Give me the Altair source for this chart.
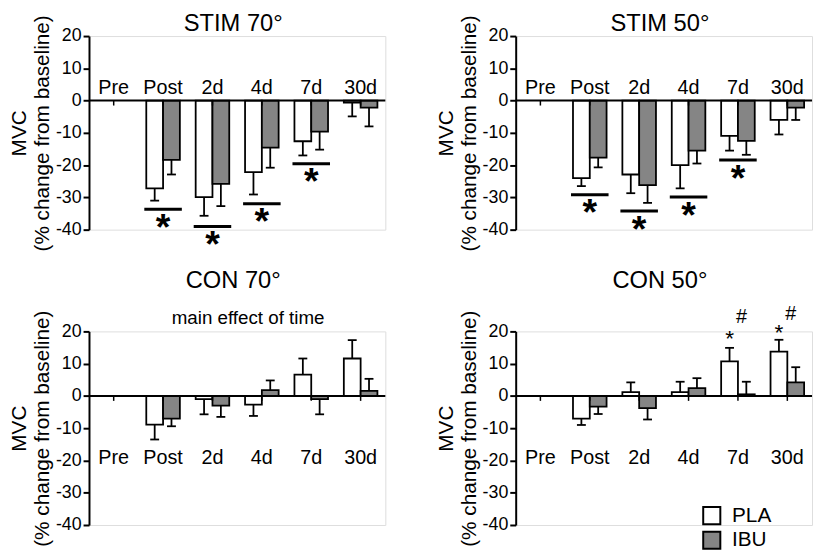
import altair as alt
import pandas as pd

FONT = "Liberation Sans"
times = ["Pre", "Post", "2d", "4d", "7d", "30d"]
bar_times = ["Post", "2d", "4d", "7d", "30d"]
groups = ["PLA", "IBU"]
y_ticks = [20, 10, 0, -10, -20, -30, -40]

# STIM 70
stim70_pla = [-27.2, -29.9, -22.2, -12.6, -0.6]
stim70_pla_se = [3.8, 5.8, 6.9, 4.4, 4.3]
stim70_ibu = [-18.4, -25.8, -14.6, -9.6, -2.2]
stim70_ibu_se = [4.5, 6.9, 6.2, 5.6, 5.8]
stim70_sig_times = ["Post", "2d", "4d", "7d"]
stim70_sig = [-33.7, -39.0, -32.0, -19.6]

# STIM 50
stim50_pla = [-24.0, -22.9, -20.0, -10.9, -6.0]
stim50_pla_se = [2.5, 5.8, 7.2, 4.6, 4.5]
stim50_ibu = [-17.7, -26.2, -15.5, -12.5, -2.2]
stim50_ibu_se = [3.0, 5.5, 4.0, 4.3, 3.8]
stim50_sig_times = ["Post", "2d", "4d", "7d"]
stim50_sig = [-29.2, -34.2, -29.9, -18.4]

# CON 70
con70_pla = [-8.9, -1.0, -2.7, 6.6, 11.6]
con70_pla_se = [4.6, 4.7, 3.5, 5.0, 5.7]
con70_ibu = [-7.0, -3.0, 1.8, -1.0, 1.6]
con70_ibu_se = [2.4, 3.5, 3.0, 4.7, 3.7]

# CON 50
con50_pla = [-7.0, 1.2, 1.2, 10.7, 13.7]
con50_pla_se = [2.0, 3.0, 3.2, 4.2, 3.7]
con50_ibu = [-3.3, -3.8, 2.4, 0.5, 4.2]
con50_ibu_se = [2.3, 3.5, 3.1, 3.9, 4.7]
con50_star_times = ["7d", "30d"]
con50_star_y = [17.6, 19.5]
con50_hash_y = [24.3, 25.3]

W, H = 300, 196
GRAY = "#858585"


def ycode(field):
    return alt.Y(
        field, type="quantitative",
        scale=alt.Scale(domain=[-40, 20], nice=False, zero=False),
        axis=alt.Axis(
            values=y_ticks, title=["MVC", "(% change from baseline)"],
            titleFontSize=21, titleFontWeight="normal", titleLineHeight=23,
            titlePadding=3, titleColor="black", titleFont=FONT,
            labelFontSize=18, labelPadding=2, labelColor="black", labelFont=FONT,
            labelExpr="datum.value < 0 ? '-' + abs(datum.value) : '' + datum.value",
            tickSize=6, tickWidth=2, tickColor="black",
            domainWidth=2, domainColor="black", grid=False,
            labelOverlap=False, labelFlush=False,
        ),
    )


xs = alt.X("time:N", scale=alt.Scale(domain=times, paddingInner=0.32, paddingOuter=0.16), axis=None)
xo = alt.XOffset("group:N", scale=alt.Scale(domain=groups, paddingInner=0, paddingOuter=0))


def panel(name, title_y, pla, pla_se, ibu, ibu_se, label_val, sig_t=None, sig_v=None,
          note=False, annotate=False, legend=False):
    rec = []
    for g, means, ses in (("PLA", pla, pla_se), ("IBU", ibu, ibu_se)):
        for t, m, s in zip(bar_times, means, ses):
            rec.append({"time": t, "group": g, "mean": m, "end": m + s if m > 0 else m - s})
    df = pd.DataFrame(rec)
    base = alt.Chart(df)
    if legend:
        leg = alt.Legend(orient="none", legendX=188, legendY=176, title=None,
                         symbolType="square", symbolSize=300, symbolStrokeColor="black",
                         symbolStrokeWidth=2, labelFontSize=21, labelFont=FONT,
                         labelColor="black", rowPadding=-2, padding=0, labelOffset=10,
                         direction="vertical")
    else:
        leg = None
    bars = base.mark_bar(stroke="black", strokeWidth=1.8).encode(
        x=xs, xOffset=xo, y=ycode("mean"),
        fill=alt.Fill("group:N", scale=alt.Scale(domain=groups, range=["white", GRAY]), legend=leg),
    )
    err = base.mark_rule(color="black", strokeWidth=1.8).encode(
        x=xs, xOffset=xo, y=ycode("mean"), y2="end:Q")
    caps = base.mark_tick(color="black", thickness=1.8, size=9, orient="horizontal",
                          opacity=1).encode(x=xs, xOffset=xo, y=ycode("end"))
    zero = alt.Chart(pd.DataFrame({"v": [0]})).mark_rule(color="black", strokeWidth=2).encode(
        y=ycode("v"))
    tdf = pd.DataFrame({"time": times, "v": [0] * len(times)})
    ticks = alt.Chart(tdf).mark_tick(color="black", orient="vertical", size=5, thickness=1.5,
                                     yOffset=2.5, opacity=1).encode(x=xs, y=ycode("v"))
    ldf = pd.DataFrame({"time": times, "v": [label_val] * len(times)})
    labels = alt.Chart(ldf).mark_text(fontSize=20, font=FONT, baseline="middle", color="black").encode(
        x=xs, y=ycode("v"), text="time:N")
    tt = alt.Chart(pd.DataFrame({"t": [name]})).mark_text(
        fontSize=24, font=FONT, baseline="middle", align="center", color="black").encode(
        x=alt.value(W / 2 - 4), y=alt.value(title_y), text="t:N")
    layers = [bars, err, caps, zero, ticks, labels, tt]
    if sig_t:
        sdf = pd.DataFrame({"time": sig_t, "v": sig_v})
        lines = alt.Chart(sdf).mark_tick(color="black", orient="horizontal", size=38,
                                         thickness=3, opacity=1).encode(x=xs, y=ycode("v"))
        stars = alt.Chart(sdf).mark_text(text="*", fontSize=38, fontWeight="bold", font=FONT,
                                         baseline="alphabetic", dy=31, color="black").encode(
            x=xs, y=ycode("v"))
        layers += [lines, stars]
    if note:
        ndf = pd.DataFrame({"txt": ["main effect of time"]})
        layers.append(alt.Chart(ndf).mark_text(fontSize=19, font=FONT, color="black",
                                               baseline="middle").encode(
            x=alt.value(W * 0.537), y=alt.value(-13), text="txt:N"))
    if annotate:
        adf = pd.DataFrame({"time": con50_star_times, "group": ["PLA"] * 2, "v": con50_star_y})
        hdf = pd.DataFrame({"time": con50_star_times, "group": ["IBU"] * 2, "v": con50_hash_y})
        layers.append(alt.Chart(adf).mark_text(text="*", fontSize=23, font=FONT, color="black",
                                               baseline="middle").encode(
            x=xs, xOffset=xo, y=ycode("v")))
        layers.append(alt.Chart(hdf).mark_text(text="#", fontSize=20, font=FONT, color="black",
                                               baseline="middle", dx=-5).encode(
            x=xs, xOffset=xo, y=ycode("v")))
    return alt.layer(*layers).properties(width=W, height=H)


p1 = panel("STIM 70°", -12, stim70_pla, stim70_pla_se, stim70_ibu, stim70_ibu_se, 4.0,
           stim70_sig_times, stim70_sig)
p2 = panel("STIM 50°", -12, stim50_pla, stim50_pla_se, stim50_ibu, stim50_ibu_se, 4.0,
           stim50_sig_times, stim50_sig)
p3 = panel("CON 70°", -51, con70_pla, con70_pla_se, con70_ibu, con70_ibu_se, -19.3, note=True)
p4 = panel("CON 50°", -51, con50_pla, con50_pla_se, con50_ibu, con50_ibu_se, -19.3,
           annotate=True, legend=True)

chart = alt.concat(p1, p2, p3, p4, columns=2, bounds="flush",
                   spacing={"row": 103, "column": 132}).resolve_scale(
    fill="independent"
).configure_view(stroke=None).configure(font=FONT).properties(
    padding={"left": 0, "top": 0, "right": 0, "bottom": 0}
)

chart.save("out.html", embed_options={"renderer": "svg", "actions": False})
